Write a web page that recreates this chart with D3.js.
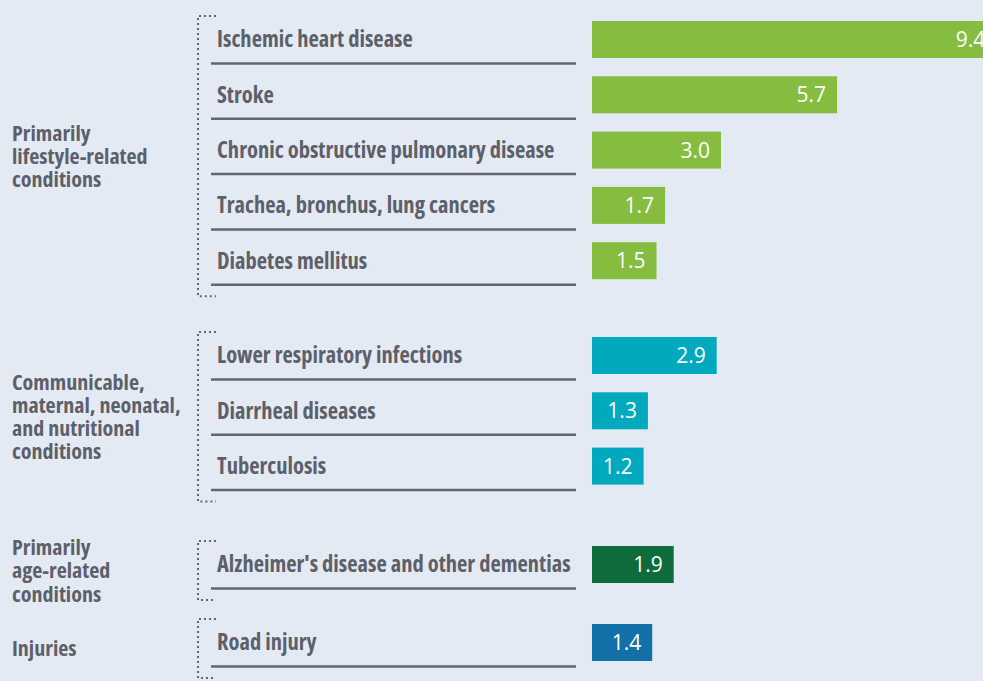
<!DOCTYPE html>
<html>
<head>
<meta charset="utf-8">
<script src="https://cdn.jsdelivr.net/npm/d3@7"></script>
<style>
  html, body { margin: 0; padding: 0; background: #e3eaf4; overflow: hidden; }
  svg { display: block; }
  .cond { font-family: "Open Sans", sans-serif; font-stretch: 75%; font-weight: 700; }
</style>
</head>
<body>
<div id="chart"></div>
<script>
// data
const groups = [
  ["Primarily", "lifestyle-related", "conditions"],
  ["Communicable,", "maternal, neonatal,", "and nutritional", "conditions"],
  ["Primarily", "age-related", "conditions"],
  ["Injuries"]
];
const causes = [
  "Ischemic heart disease", "Stroke", "Chronic obstructive pulmonary disease",
  "Trachea, bronchus, lung cancers", "Diabetes mellitus",
  "Lower respiratory infections", "Diarrheal diseases", "Tuberculosis",
  "Alzheimer's disease and other dementias",
  "Road injury"
];
const causeGroup = [0, 0, 0, 0, 0, 1, 1, 1, 2, 3];
const values = [9.4, 5.7, 3.0, 1.7, 1.5, 2.9, 1.3, 1.2, 1.9, 1.4];
const groupColors = ["#86bd41", "#00a9bd", "#0e6b3a", "#1271a9"];

const width = 983, height = 681;
const barH = 37;
// extra space (in row units) inserted before each group
const groupGap = [0, 0.714, 0.78, 0.41];

// slot position of each row
let slot = [], s = 0;
causes.forEach((c, i) => {
  if (i > 0 && causeGroup[i] !== causeGroup[i - 1]) s += 1 + groupGap[causeGroup[i]];
  else if (i > 0) s += 1;
  slot.push(s);
});

const y = d3.scaleLinear().domain([0, 1]).range([21, 76.3]);
const x = d3.scaleLinear().domain([0, 10]).range([592, 1022]);

const svg = d3.select("#chart").append("svg")
  .attr("width", width)
  .attr("height", height);

const rows = causes.map((c, i) => ({ cause: c, value: values[i], group: causeGroup[i], top: y(slot[i]) }));

// brackets and group labels
groups.forEach((lines, g) => {
  const rs = rows.filter(r => r.group === g);
  const top = rs[0].top - 5;
  const bottom = rs[rs.length - 1].top + barH + 17;
  svg.append("path")
    .attr("d", `M216,${top}H198V${bottom}H216`)
    .attr("fill", "none")
    .attr("stroke", "#62666e")
    .attr("stroke-width", 2)
    .attr("stroke-dasharray", "2 3");

  const mid = (top + bottom) / 2;
  const lh = 23.3;
  const t = svg.append("text")
    .attr("class", "cond")
    .attr("x", 12)
    .attr("font-size", 22)
    .attr("fill", "#5d6069");
  lines.forEach((l, k) => {
    t.append("tspan")
      .attr("x", 12)
      .attr("y", mid + (k - (lines.length - 1) / 2) * lh)
      .attr("dy", "0.35em")
      .text(l);
  });
});

// underline + label
svg.selectAll(".uline").data(rows).join("line")
  .attr("class", "uline")
  .attr("x1", 211).attr("x2", 576)
  .attr("y1", d => d.top + barH + 5.5)
  .attr("y2", d => d.top + barH + 5.5)
  .attr("stroke", "#62666e")
  .attr("stroke-width", 2.5);

svg.selectAll(".lbl").data(rows).join("text")
  .attr("class", "lbl cond")
  .attr("x", 217)
  .attr("y", d => d.top + barH / 2)
  .attr("dy", "0.35em")
  .attr("font-size", 22.5)
  .attr("fill", "#5d6069")
  .text(d => d.cause);

// bars
svg.selectAll(".bar").data(rows).join("rect")
  .attr("class", "bar")
  .attr("x", x(0))
  .attr("y", d => d.top)
  .attr("width", d => x(d.value) - x(0))
  .attr("height", barH)
  .attr("fill", d => groupColors[d.group]);

svg.selectAll(".val").data(rows).join("text")
  .attr("class", "val")
  .attr("x", d => x(d.value) - 11)
  .attr("y", d => d.top + barH / 2)
  .attr("dy", "0.36em")
  .attr("text-anchor", "end")
  .attr("font-family", "'Open Sans', sans-serif")
  .attr("font-size", 21)
  .attr("fill", "#ffffff")
  .text(d => d.value.toFixed(1));
</script>
</body>
</html>
